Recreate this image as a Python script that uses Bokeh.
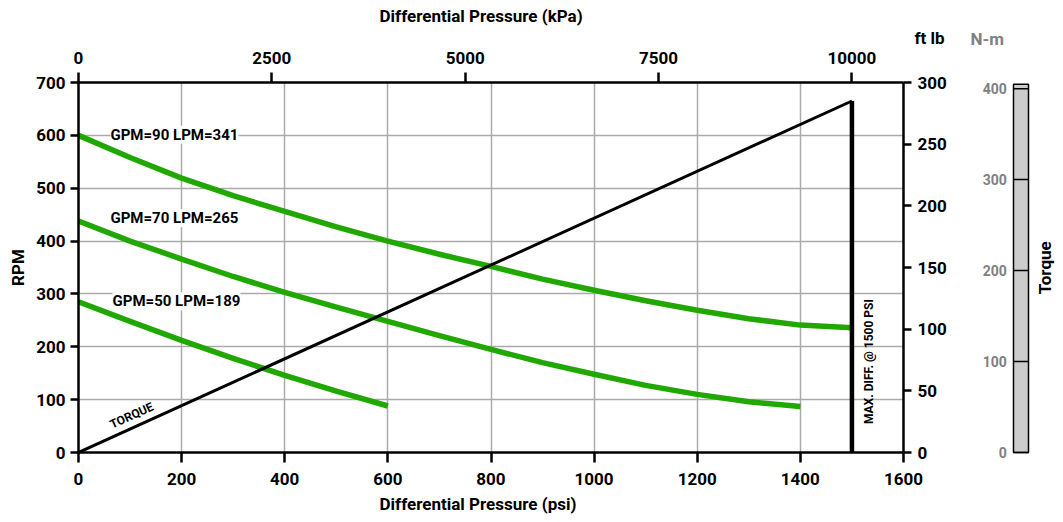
from bokeh.plotting import figure
from bokeh.models import Range1d, LinearAxis, FixedTicker, Label, Title
from bokeh.layouts import row
from bokeh.core.properties import value
from bokeh.embed import file_html
from bokeh.resources import INLINE

FONT = "Roboto"

# ---- data ----
psi_90 = [0, 100, 200, 300, 400, 500, 600, 700, 800, 900, 1000, 1100, 1200, 1300, 1400, 1500]
rpm_90 = [600, 558, 519, 486, 456, 427, 400, 375, 352, 328, 307, 287, 269, 253, 241, 236]
psi_70 = [0, 100, 200, 300, 400, 500, 600, 700, 800, 900, 1000, 1100, 1200, 1300, 1400]
rpm_70 = [438, 400, 366, 333, 303, 275, 248, 221, 195, 170, 148, 127, 110, 96, 87]
psi_50 = [0, 100, 200, 300, 400, 500, 600]
rpm_50 = [285, 248, 212, 178, 146, 116, 88]
torque_psi = [0, 1500]
torque_ftlb = [0, 285]
max_psi = [1500, 1500]
max_ftlb = [285, 0]

psi_ticks = [0, 200, 400, 600, 800, 1000, 1200, 1400, 1600]
rpm_ticks = [0, 100, 200, 300, 400, 500, 600, 700]
kpa_ticks = [0, 2500, 5000, 7500, 10000]
ftlb_ticks = [0, 50, 100, 150, 200, 250, 300]
nm_ticks = [0, 100, 200, 300, 400]
nm_labels = ["0", "100", "200", "300", "400"]

series_labels = ["GPM=90 LPM=341", "GPM=70 LPM=265", "GPM=50 LPM=189"]

GREEN = "#20a800"
FTLB_TO_NM = 1.35582

BORDER_TOP = 82
BORDER_BOTTOM = 66
FRAME_H = 370

p = figure(frame_width=825, frame_height=FRAME_H, x_range=Range1d(0, 1600), y_range=Range1d(0, 700),
           output_backend="svg", toolbar_location=None, title_location=None,
           min_border_left=78, min_border_right=54, min_border_top=BORDER_TOP,
           min_border_bottom=BORDER_BOTTOM)
p.outline_line_color = None
p.extra_x_ranges = {"kpa": Range1d(0, 1600 * 10000 / 1500)}
p.extra_y_ranges = {"ft": Range1d(0, 300)}

def style_axis(ax, size="17px"):
    ax.axis_line_width = 2.5
    ax.axis_line_color = "black"
    ax.major_tick_line_width = 2.5
    ax.major_tick_line_color = "black"
    ax.major_tick_out = 8
    ax.major_tick_in = 0
    ax.minor_tick_line_color = None
    ax.major_label_text_font = FONT
    ax.major_label_text_font_style = "bold"
    ax.major_label_text_font_size = size
    ax.major_label_text_color = "black"
    ax.axis_label_text_font = FONT
    ax.axis_label_text_font_style = "bold"
    ax.axis_label_text_font_size = "17px"
    ax.axis_label_text_color = "black"

def title(text, **kw):
    return Title(text=text, text_font=FONT, text_font_style="bold", text_font_size="17px",
                 text_color=kw.pop("color", "black"), **kw)

xa = p.xaxis[0]
xa.ticker = FixedTicker(ticks=psi_ticks)
style_axis(xa)
xa.major_tick_out = 10
xa.major_label_standoff = 10
p.add_layout(title("Differential Pressure (psi)", align="left", offset=301, standoff=9,
                   vertical_align="bottom"), "below")

ya = p.yaxis[0]
ya.ticker = FixedTicker(ticks=rpm_ticks)
ya.axis_label = "RPM"
style_axis(ya)
ya.major_label_standoff = 5
ya.axis_label_standoff = 5

top = LinearAxis(x_range_name="kpa", ticker=FixedTicker(ticks=kpa_ticks))
style_axis(top)
top.major_tick_out = 10
top.major_label_standoff = 9
p.add_layout(top, "above")

p.add_layout(title("ft lb", align="right", offset=-41, standoff=0, vertical_align="middle"), "above")
p.add_layout(title("Differential Pressure (kPa)", align="left", offset=301, standoff=0,
                   vertical_align="middle"), "above")

right = LinearAxis(y_range_name="ft", ticker=FixedTicker(ticks=ftlb_ticks))
style_axis(right)
right.major_label_standoff = 6
p.add_layout(right, "right")

p.xgrid.ticker = FixedTicker(ticks=psi_ticks)
p.ygrid.ticker = FixedTicker(ticks=rpm_ticks)
for g in (p.xgrid[0], p.ygrid[0]):
    g.grid_line_color = "#aaaaaa"
    g.grid_line_width = 1.5

for xs, ys in ((psi_90, rpm_90), (psi_70, rpm_70), (psi_50, rpm_50)):
    p.line(xs, ys, line_color=GREEN, line_width=5.5, line_join="round")

p.line(torque_psi, torque_ftlb, y_range_name="ft", line_color="black", line_width=3)
p.line(max_psi, max_ftlb, y_range_name="ft", line_color="black", line_width=4.5)

label_pos = [(62, 601), (62, 443), (66, 286)]
for (lx, ly), txt in zip(label_pos, series_labels):
    p.add_layout(Label(x=lx, y=ly, text=txt, text_font=FONT, text_font_style="bold",
                       text_font_size="15px", text_baseline="middle", text_align="left",
                       text_color="black", background_fill_color="white"))

p.add_layout(Label(x=103, y=70, text="TORQUE", angle=0.426, text_font=FONT,
                   text_font_style="bold", text_font_size="12px", text_color="black",
                   text_baseline="middle", text_align="center"))
p.add_layout(Label(x=1534, y=172, text="MAX. DIFF. @ 1500 PSI", angle=1.5708, text_font=FONT,
                   text_font_style="bold", text_font_size="12px", text_color="black",
                   text_baseline="middle", text_align="center"))

# ---- N-m side scale ----
SIDE_W = 100
BAR_LEFT_PX = 56
BAR_W_PX = 15
SIDE_FRAME_H = FRAME_H + 12
NM_PER_PX = 300 * FTLB_TO_NM / FRAME_H
nm_top = 300 * FTLB_TO_NM
side = figure(frame_width=SIDE_W, frame_height=SIDE_FRAME_H,
              x_range=Range1d(-BAR_LEFT_PX / BAR_W_PX, (SIDE_W - BAR_LEFT_PX) / BAR_W_PX),
              y_range=Range1d(nm_top - SIDE_FRAME_H * NM_PER_PX, nm_top),
              output_backend="svg", toolbar_location=None, title_location=None,
              x_axis_location=None, y_axis_location=None,
              min_border_left=0, min_border_right=0, min_border_top=BORDER_TOP,
              min_border_bottom=BORDER_BOTTOM - 12)
side.grid.visible = False
side.outline_line_color = None

side.quad(left=[0], right=[1], bottom=[0], top=[nm_top - 2], fill_color="#cccccc",
          line_color="black", line_width=1.5)
side.segment(x0=[0] * len(nm_ticks), x1=[1] * len(nm_ticks), y0=nm_ticks, y1=nm_ticks,
             line_color="black", line_width=1.5)
side.text(x=[-0.45] * len(nm_ticks), y=nm_ticks, text=nm_labels, text_font=value(FONT),
          text_font_style="bold", text_font_size="14px", text_color="#808080",
          text_align="right", text_baseline="middle")
side.text(x=[2.07], y=[203], text=["Torque"], angle=1.5708, text_font=value(FONT),
          text_font_style="bold", text_font_size="17px", text_color="black",
          text_align="center", text_baseline="middle")
# spacer that mirrors the height of the main chart's top axis, then the unit heading
side.add_layout(title(" ", align="left", standoff=11, vertical_align="middle"), "above")
side.add_layout(title("N-m", align="left", offset=13, standoff=0, vertical_align="middle",
                      color="#808080"), "above")

layout = row(p, side)
open("out.html", "w").write(file_html(layout, INLINE))
